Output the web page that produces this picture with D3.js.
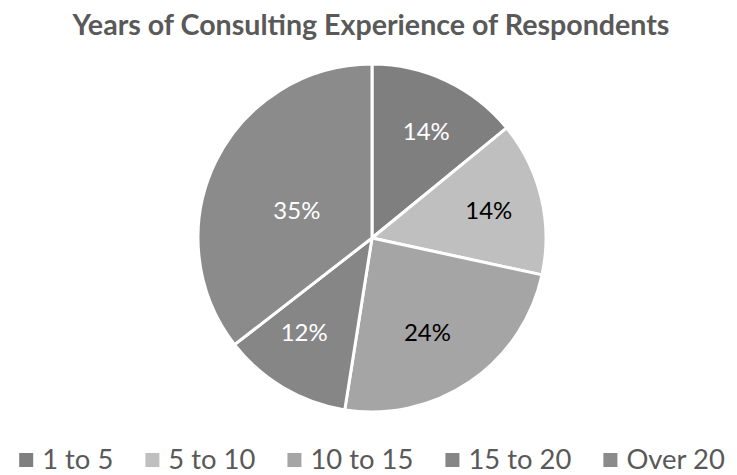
<!DOCTYPE html>
<html>
<head>
<meta charset="utf-8">
<script src="https://cdn.jsdelivr.net/npm/d3@7"></script>
<style>
  html, body { margin: 0; padding: 0; background: #fff; }
  svg { display: block; }
</style>
</head>
<body>
<svg id="chart" width="737" height="475"></svg>
<script>
const title = "Years of Consulting Experience of Respondents";
const categories = ["1 to 5", "5 to 10", "10 to 15", "15 to 20", "Over 20"];
const values = [14.1, 14.3, 24.1, 12.0, 35.5];
const labels = ["14%", "14%", "24%", "12%", "35%"];
const colors = ["#7f7f7f", "#bfbfbf", "#a5a5a5", "#868686", "#8b8b8b"];
const labelColors = ["#ffffff", "#000000", "#000000", "#ffffff", "#ffffff"];

// layout: label distance from centre as fraction of radius, and angular nudge (deg)
const labelRadiusFrac = [0.69, 0.69, 0.63, 0.67, 0.46];
const labelAngleNudge = [1.5, 0, 4, 5, -6];

const FONT = "Lato, 'Open Sans', sans-serif";
const svg = d3.select("#chart");

function fitSize(text, targetW, weight) {
  const t = svg.append("text").attr("font-family", FONT).attr("font-weight", weight)
    .attr("font-size", 100).text(text);
  const w = t.node().getComputedTextLength();
  t.remove();
  return 100 * targetW / w;
}

// Title
const titleSize = fitSize(title, 597, "bold");
svg.append("text")
  .attr("x", 371).attr("y", 35)
  .attr("text-anchor", "middle")
  .attr("font-family", FONT).attr("font-weight", "bold")
  .attr("font-size", titleSize)
  .attr("fill", "#595959")
  .text(title);

// Pie
const cx = 372, cy = 238, r = 174;
const pie = d3.pie().sort(null).value(d => d)(values);
const arc = d3.arc().innerRadius(0).outerRadius(r);
const g = svg.append("g").attr("transform", `translate(${cx},${cy})`);
g.selectAll("path").data(pie).join("path")
  .attr("d", arc)
  .attr("fill", (d, i) => colors[i])
  .attr("stroke", "#ffffff")
  .attr("stroke-width", 3)
  .attr("stroke-linejoin", "round");

function labelPos(d, i) {
  const rr = r * labelRadiusFrac[i];
  const a = (d.startAngle + d.endAngle) / 2 + labelAngleNudge[i] * Math.PI / 180;
  return [rr * Math.sin(a), -rr * Math.cos(a)];
}

const labelSize = fitSize("14%", 47, "normal");
g.selectAll("text.lbl").data(pie).join("text")
  .attr("class", "lbl")
  .attr("transform", (d, i) => `translate(${labelPos(d, i)})`)
  .attr("text-anchor", "middle")
  .attr("dy", "0.36em")
  .attr("font-family", FONT)
  .attr("font-size", labelSize)
  .attr("fill", (d, i) => labelColors[i])
  .text((d, i) => labels[i]);

// Legend
const legSize = fitSize("10 to 15", 103, "normal");
const leg = svg.append("g");
const mk = 14, mgap = 9, igap = 32;
let x = 0;
const items = [];
categories.forEach((c, i) => {
  const t = leg.append("text")
    .attr("font-family", FONT).attr("font-size", legSize)
    .attr("fill", "#595959").text(c);
  const w = t.node().getComputedTextLength();
  items.push({ t, x, w, i });
  x += mk + mgap + w + igap;
});
const total = x - igap;
const startX = 372 - total / 2;
items.forEach(it => {
  leg.append("rect")
    .attr("x", startX + it.x).attr("y", 453)
    .attr("width", mk).attr("height", mk)
    .attr("fill", colors[it.i]);
  it.t.attr("x", startX + it.x + mk + mgap).attr("y", 469);
});
</script>
</body>
</html>
